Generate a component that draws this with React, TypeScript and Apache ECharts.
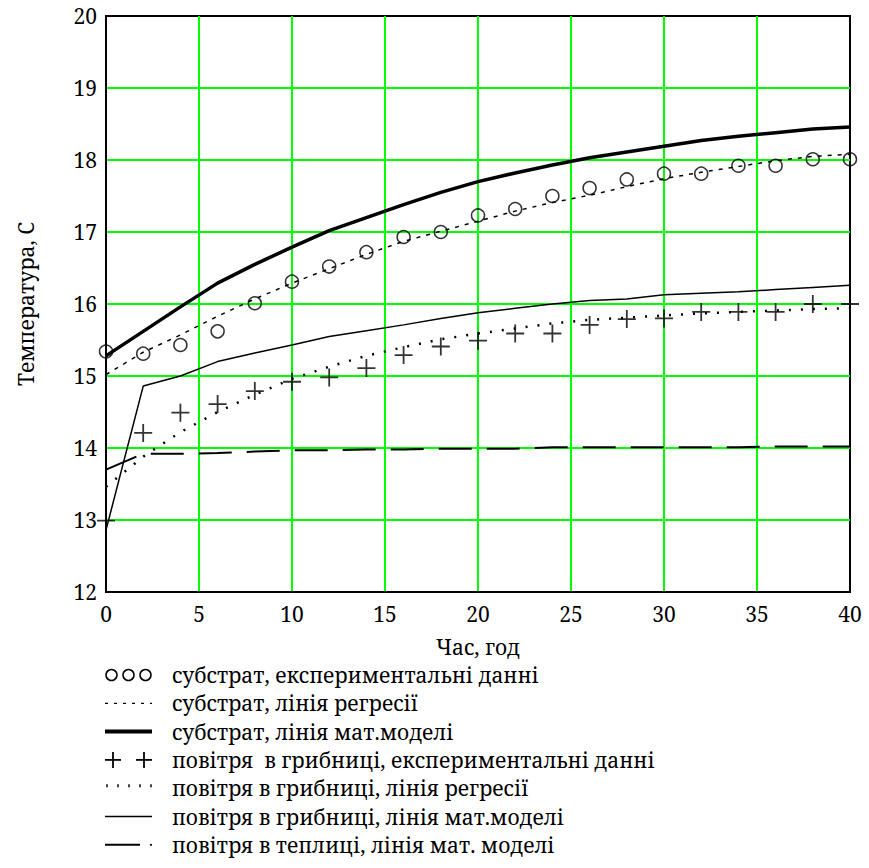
import React, { useEffect, useRef } from "react";
import * as echarts from "echarts";

// ---- data ----
const hours = [0, 2, 4, 6, 8, 10, 12, 14, 16, 18, 20, 22, 24, 26, 28, 30, 32, 34, 36, 38, 40];
const substrateExp = [15.34, 15.31, 15.43, 15.62, 16.01, 16.31, 16.52, 16.72, 16.93, 17.0, 17.23, 17.32, 17.5, 17.61, 17.73, 17.81, 17.81, 17.92, 17.92, 18.01, 18.01];
const substrateReg = [15.02, 15.33, 15.57, 15.83, 16.07, 16.29, 16.49, 16.69, 16.87, 17.01, 17.15, 17.29, 17.41, 17.51, 17.63, 17.74, 17.83, 17.91, 17.99, 18.05, 18.08];
const substrateModel = [15.28, 15.62, 15.96, 16.29, 16.55, 16.79, 17.02, 17.2, 17.38, 17.55, 17.7, 17.82, 17.93, 18.03, 18.11, 18.19, 18.27, 18.33, 18.38, 18.43, 18.46];
const airExp = [12.99, 14.21, 14.49, 14.61, 14.79, 14.92, 14.98, 15.11, 15.29, 15.41, 15.49, 15.59, 15.59, 15.71, 15.79, 15.8, 15.89, 15.89, 15.89, 16.0, 16.0];
const airReg = [13.46, 13.88, 14.22, 14.5, 14.74, 14.96, 15.13, 15.28, 15.4, 15.51, 15.59, 15.66, 15.73, 15.78, 15.81, 15.84, 15.87, 15.89, 15.91, 15.93, 15.94];
const airModel = [12.86, 14.86, 15.0, 15.2, 15.32, 15.43, 15.55, 15.63, 15.71, 15.8, 15.88, 15.94, 16.0, 16.05, 16.07, 16.13, 16.15, 16.17, 16.2, 16.23, 16.26];
const greenhouseModel = [13.7, 13.92, 13.92, 13.93, 13.95, 13.97, 13.97, 13.98, 13.98, 13.99, 13.99, 13.99, 14.01, 14.01, 14.01, 14.01, 14.01, 14.01, 14.02, 14.02, 14.02];

const xAxisTitle = "Час, год";
const yAxisTitle = "Температура, С";
const legendLabels = [
  "субстрат, експериментальні данні",
  "субстрат, лінія регресії",
  "субстрат, лінія мат.моделі",
  "повітря  в грибниці, експериментальні данні",
  "повітря в грибниці, лінія регресії",
  "повітря в грибниці, лінія мат.моделі",
  "повітря в теплиці, лінія мат. моделі",
];

const FONT = "Noto Serif";
const pairs = (ys: number[]) => hours.map((h, i) => [h, ys[i]]);
const PLUS = "path://M-1,-0.1H1V0.1H-1Z M-0.1,-1H0.1V1H-0.1Z";

function buildLegend() {
  const els: any[] = [];
  const x0 = 105, x1 = 152, tx = 172, y0 = 675, dy = 28.3;
  legendLabels.forEach((label, i) => {
    const y = y0 + dy * i;
    const line = (a: number, b: number, w: number, dash?: number[]) =>
      els.push({ type: "line", shape: { x1: a, y1: y, x2: b, y2: y }, style: { stroke: "#000", lineWidth: w, lineDash: dash } });
    if (i === 0) {
      [111.5, 128.5, 145.5].forEach((cx) =>
        els.push({ type: "circle", shape: { cx, cy: y, r: 5.5 }, style: { fill: "none", stroke: "#000", lineWidth: 1.5 } })
      );
    } else if (i === 1) line(x0, x1, 1.2, [3, 6]);
    else if (i === 2) line(x0, x1, 4);
    else if (i === 3) {
      [113, 144].forEach((cx) => {
        els.push({ type: "line", shape: { x1: cx - 8, y1: y, x2: cx + 8, y2: y }, style: { stroke: "#000", lineWidth: 1.8 } });
        els.push({ type: "line", shape: { x1: cx, y1: y - 8, x2: cx, y2: y + 8 }, style: { stroke: "#000", lineWidth: 1.8 } });
      });
    } else if (i === 4) {
      for (let k = 0; k < 5; k++) {
        const cx = x0 + 2 + k * 11;
        els.push({ type: "line", shape: { x1: cx, y1: y - 4, x2: cx, y2: y - 1 }, style: { stroke: "#000", lineWidth: 1.5 } });
      }
    } else if (i === 5) line(x0, x1, 1.5);
    else {
      line(x0, 140, 2);
      els.push({ type: "circle", shape: { cx: 151, cy: y, r: 1 }, style: { fill: "#000" } });
    }
    els.push({
      type: "text",
      x: tx,
      y: y,
      style: { text: label, fontSize: 21, fontFamily: FONT, fill: "#000", verticalAlign: "middle", align: "left" },
    });
  });
  return els;
}

export default function App() {
  const ref = useRef<HTMLDivElement>(null);
  useEffect(() => {
    if (!ref.current) return;
    const chart = echarts.init(ref.current, undefined, { renderer: "svg" });
    const axisLabel = { color: "#000", fontSize: 21, fontFamily: FONT };
    const green = { show: true, lineStyle: { color: "#00ff00", width: 2 }, showMinLine: false, showMaxLine: false };
    chart.setOption({
      animation: false,
      backgroundColor: "#fff",
      grid: { left: 106, right: 19, top: 16, bottom: 276, show: true, borderColor: "#000", borderWidth: 2, backgroundColor: "transparent" },
      xAxis: {
        type: "value",
        min: 0,
        max: 40,
        interval: 5,
        name: xAxisTitle,
        nameLocation: "middle",
        nameGap: 44,
        nameTextStyle: { color: "#000", fontSize: 21, fontFamily: FONT },
        axisLine: { show: true, onZero: false, lineStyle: { color: "#000", width: 2 } },
        axisTick: { show: false },
        axisLabel: { ...axisLabel, margin: 11 },
        splitLine: green,
      },
      yAxis: {
        type: "value",
        min: 12,
        max: 20,
        interval: 1,
        name: yAxisTitle,
        nameLocation: "middle",
        nameRotate: 90,
        nameGap: 70,
        nameTextStyle: { color: "#000", fontSize: 21, fontFamily: FONT },
        axisLine: { show: true, onZero: false, lineStyle: { color: "#000", width: 2 } },
        axisTick: { show: false },
        axisLabel: { ...axisLabel, margin: 9 },
        splitLine: green,
      },
      series: [
        {
          name: legendLabels[0], type: "scatter", data: pairs(substrateExp), symbol: "circle", symbolSize: 13,
          itemStyle: { color: "rgba(0,0,0,0)", borderColor: "#000", borderWidth: 1.5 }, z: 5,
        },
        {
          name: legendLabels[1], type: "line", data: pairs(substrateReg), showSymbol: false, symbol: "none",
          lineStyle: { color: "#000", width: 1.5, type: [4, 6] },
        },
        {
          name: legendLabels[2], type: "line", data: pairs(substrateModel), showSymbol: false, symbol: "none",
          lineStyle: { color: "#000", width: 3.5 },
        },
        {
          name: legendLabels[3], type: "scatter", data: pairs(airExp), symbol: PLUS, symbolSize: 18,
          itemStyle: { color: "#000" }, z: 5,
        },
        {
          name: legendLabels[4], type: "line", data: pairs(airReg), showSymbol: false, symbol: "none",
          lineStyle: { color: "#000", width: 2.5, type: [2, 10] },
        },
        {
          name: legendLabels[5], type: "line", data: pairs(airModel), showSymbol: false, symbol: "none",
          lineStyle: { color: "#000", width: 1.5 },
        },
        {
          name: legendLabels[6], type: "line", data: pairs(greenhouseModel), showSymbol: false, symbol: "none",
          lineStyle: { color: "#000", width: 2, type: [33, 15] },
        },
      ],
      graphic: buildLegend(),
    });
    return () => chart.dispose();
  }, []);
  return <div ref={ref} style={{ position: "absolute", left: 0, top: 0, width: 869, height: 868, background: "#fff" }} />;
}
